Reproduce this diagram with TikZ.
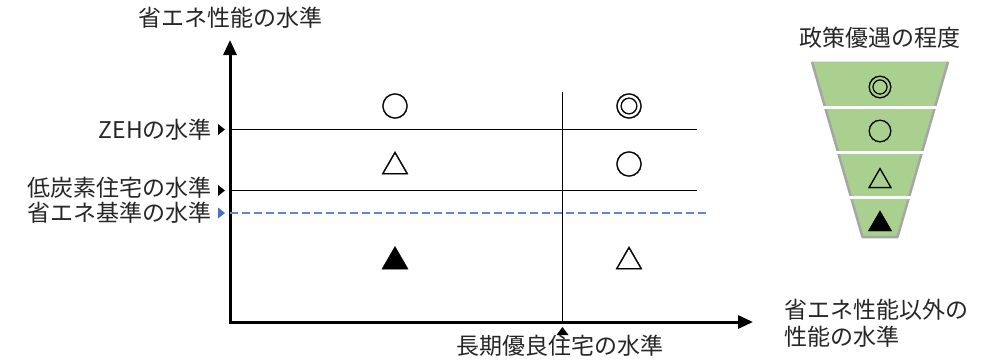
\documentclass[tikz,border=0pt]{standalone}
\usepackage{fontspec}
\setmainfont{Noto Sans CJK JP}
\newfontfamily\symfont[FakeBold=1.2]{Noto Sans CJK JP}
\usetikzlibrary{arrows.meta}
\definecolor{pgreen}{HTML}{A9D08E}
\definecolor{pblue}{HTML}{4472C4}
\definecolor{pgray}{HTML}{A6A6A6}
\definecolor{plight}{HTML}{E0E0E0}
\begin{document}
\begin{tikzpicture}[x=1pt,y=-1pt,
  lbl/.style={font=\fontsize{23}{27}\selectfont, inner sep=0pt, text=black!85},
  sym/.style={font=\symfont\fontsize{28}{30}\selectfont, inner sep=0pt},
  psym/.style={font=\symfont\fontsize{25}{27}\selectfont, inner sep=0pt},
  axis/.style={line width=3pt, line join=miter, {Triangle[length=15pt,width=13pt]}-{Triangle[length=15pt,width=13pt]}},
  level/.style={line width=1.5pt},
  marker/.style={fill=black}]
\useasboundingbox (0,0) rectangle (996,359);
% axes
\coordinate (O) at (230,322);
\coordinate (Ytip) at (230,40);
\coordinate (Xtip) at (753,322);
\draw[axis] (Ytip) -- (O) -- (Xtip);
% level lines
\coordinate (zehL) at (230,129.5);  \coordinate (zehR) at (697,129.5);
\coordinate (lcL) at (230,190.5);   \coordinate (lcR) at (697,190.5);
\coordinate (seL) at (230,213);   \coordinate (seR) at (708,213);
\coordinate (vT) at (562.5,92);     \coordinate (vB) at (562.5,322);
\draw[level] (zehL) -- (zehR);
\draw[level] (lcL) -- (lcR);
\draw[pblue!85, line width=1.5pt, dash pattern=on 8pt off 4pt] (seL) -- (seR);
\draw[level] (vT) -- (vB);
% markers
\fill[marker] ([xshift=-12pt,yshift=-5.5pt]zehL) -- ([xshift=-5pt]zehL) -- ([xshift=-12pt,yshift=5.5pt]zehL) -- cycle;
\fill[marker] ([xshift=-12pt,yshift=-5.5pt]lcL) -- ([xshift=-5pt]lcL) -- ([xshift=-12pt,yshift=5.5pt]lcL) -- cycle;
\fill[pblue] ([xshift=-12pt,yshift=-5.5pt]seL) -- ([xshift=-5pt]seL) -- ([xshift=-12pt,yshift=5.5pt]seL) -- cycle;
\fill[marker] ([xshift=-6pt,yshift=-13pt]vB) -- ([yshift=-5pt]vB) -- ([xshift=6pt,yshift=-13pt]vB) -- cycle;
% labels
\node[lbl] (ytitle) at (230,18) {省エネ性能の水準};
\node[lbl, anchor=east] (zeh) at (212,130) {ZEHの水準};
\node[lbl, anchor=east] (lc) at (212,188) {低炭素住宅の水準};
\node[lbl, anchor=east] (se) at (212,213) {省エネ基準の水準};
\node[lbl] (chouki) at (560,346) {長期優良住宅の水準};
\node[lbl, anchor=west, align=left] (xtitle) at (784,323) {省エネ性能以外の\\性能の水準};
\node[lbl] (ptitle) at (880,38) {政策優遇の程度};
% grid symbols
\node[sym] (s11) at (395,106) {○};
\node[sym] (s12) at (629,106) {◎};
\node[sym] (s21) at (395,163) {△};
\node[sym] (s22) at (629,164) {○};
\node[sym] (s31) at (395,258) {▲};
\node[sym] (s32) at (629,258) {△};
% pyramid
\fill[pgreen] (812,62) -- (948,62) -- (897.5,237) -- (862.5,237) -- cycle;
\draw[plight, line width=1pt] (812,61) -- (948,61);
\draw[pgray, line width=2.5pt, line join=round] (812,62) -- (862.5,237) -- (897.5,237) -- (948,62);
\foreach \yy in {107.5,152.5,197.5}
  \draw[white, line width=3pt] (800,\yy) -- (960,\yy);
\node[psym] (p1) at (880,87) {◎};
\node[psym] (p2) at (880,131) {○};
\node[psym] (p3) at (880,178) {△};
\node[psym] (p4) at (880,221) {▲};
\end{tikzpicture}
\end{document}
